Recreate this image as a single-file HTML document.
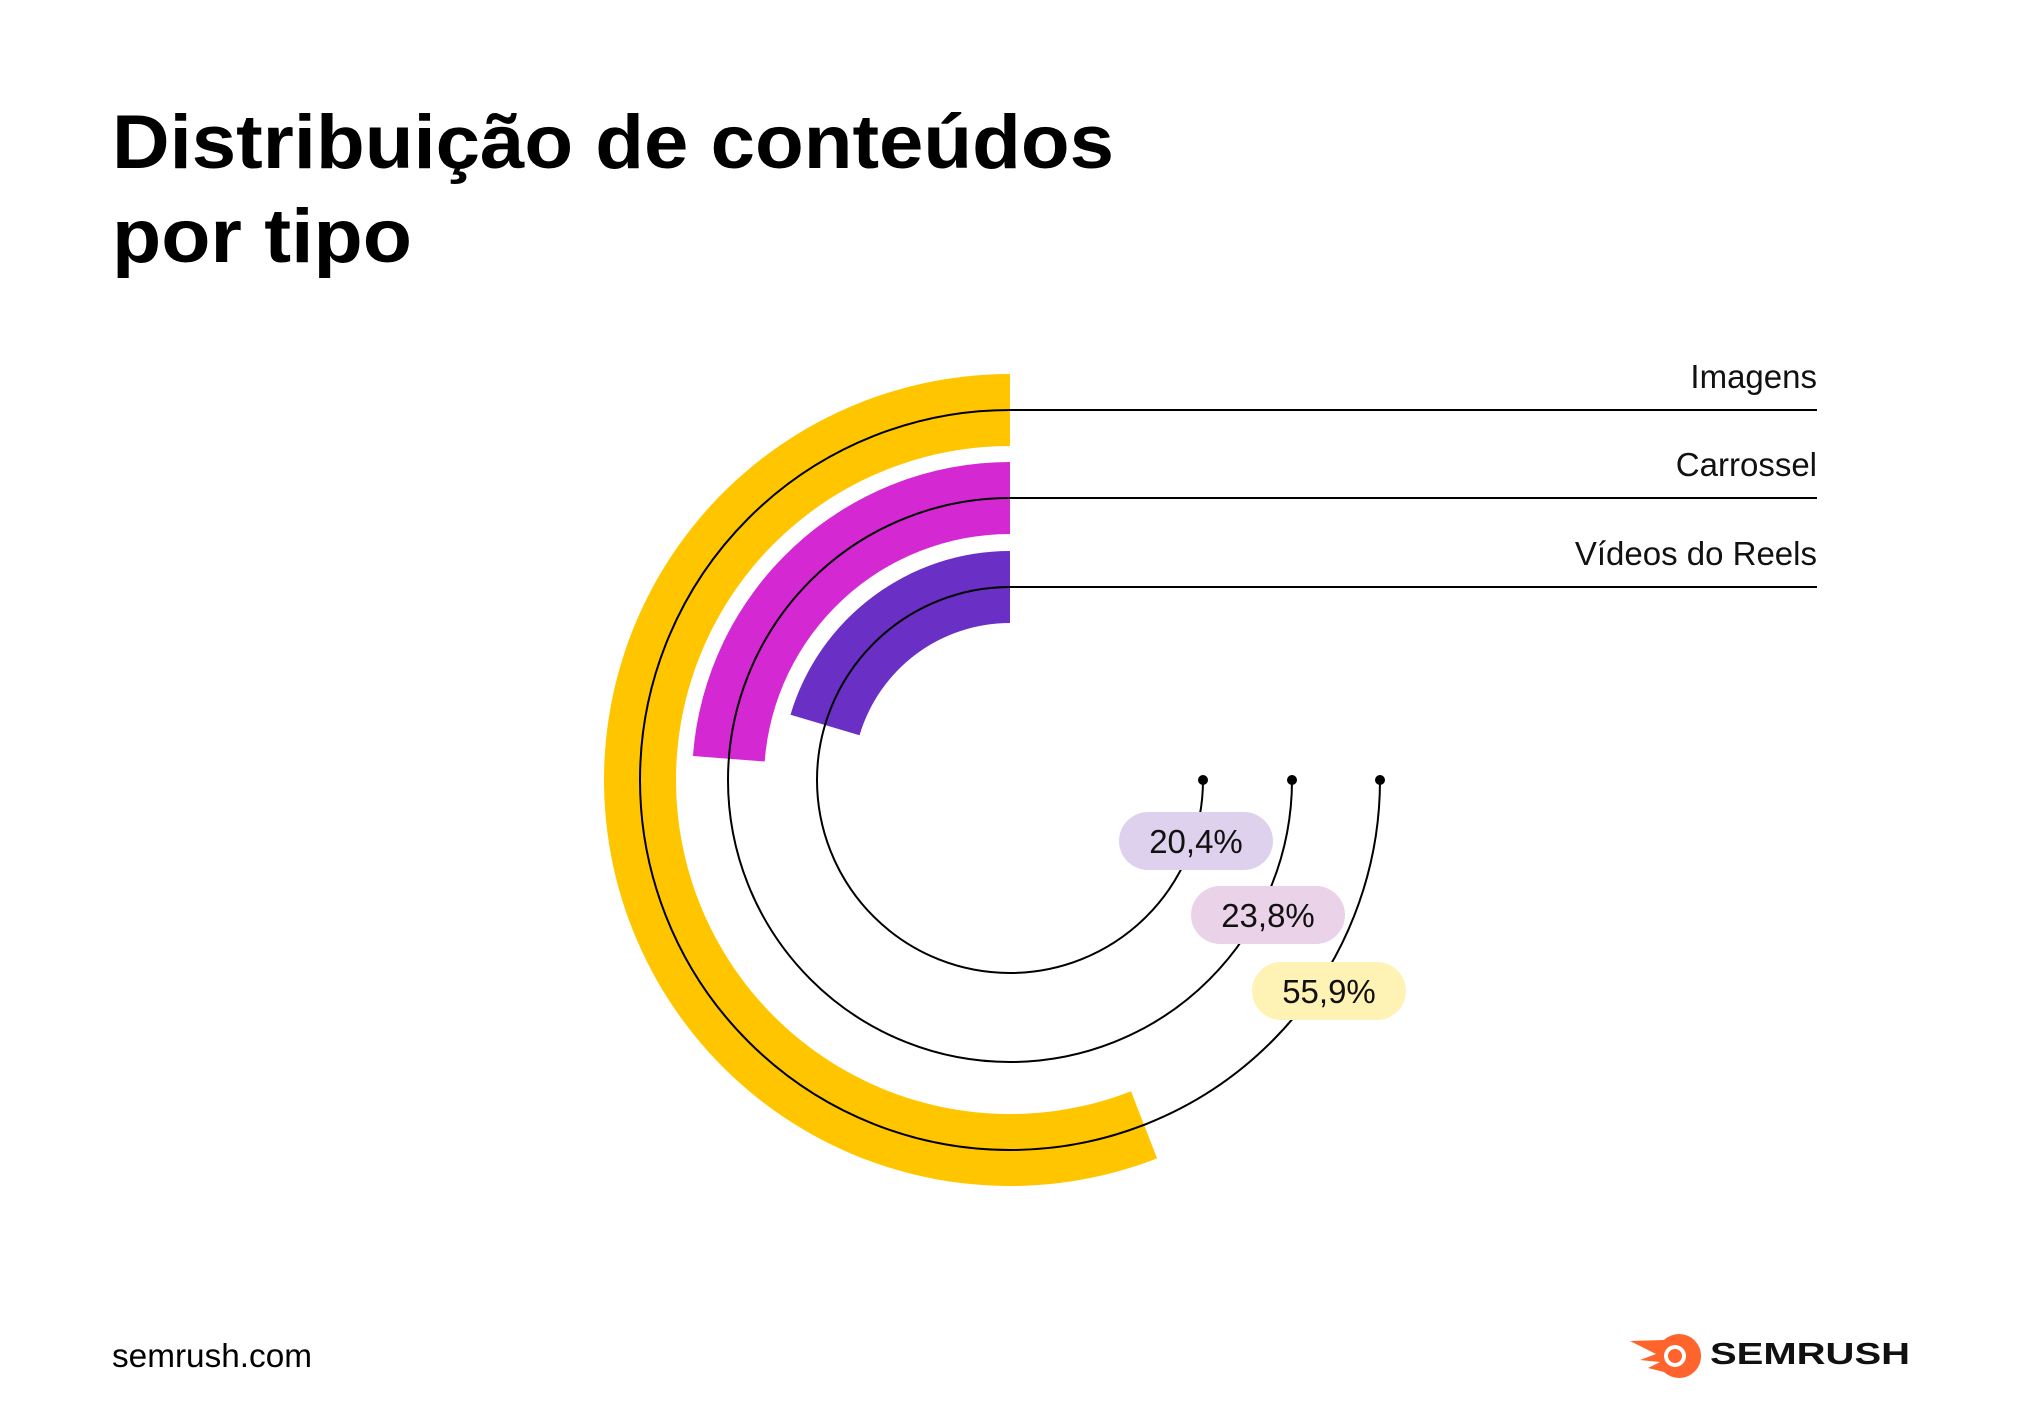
<!DOCTYPE html>
<html><head><meta charset="utf-8">
<style>
html,body{margin:0;padding:0;background:#fff;}
svg{display:block;font-family:"Liberation Sans",sans-serif;}
</style></head>
<body>
<svg id="chart" width="2020" height="1406" viewBox="0 0 2020 1406">
  <rect width="2020" height="1406" fill="#fff"/>
  <text x="112" y="168" font-size="76" font-weight="bold" fill="#000" textLength="1002" lengthAdjust="spacingAndGlyphs">Distribuição de conteúdos</text>
  <text x="112" y="262" font-size="76" font-weight="bold" fill="#000" textLength="300" lengthAdjust="spacingAndGlyphs">por tipo</text>
  <g id="rings"></g>
  <g id="labels"></g>
  <text x="112" y="1367" font-size="33" fill="#000" textLength="200" lengthAdjust="spacingAndGlyphs">semrush.com</text>
  <g>
    <path d="M1630,1341 L1664,1340 A22,22 0 1 1 1664,1372 L1648,1368 L1660,1362 L1640,1360 L1656,1354 Z" fill="#ff642d"/>
    <circle cx="1675" cy="1356" r="11" fill="#fff"/>
    <circle cx="1675" cy="1356" r="7" fill="#ff642d"/>
    <text x="1710" y="1364" font-size="31" font-weight="bold" fill="#111" textLength="200" lengthAdjust="spacingAndGlyphs">SEMRUSH</text>
  </g>
</svg>
<script>
const categories = ["Imagens", "Carrossel", "Vídeos do Reels"];
const values = [55.9, 23.8, 20.4];
const valueLabels = ["55,9%", "23,8%", "20,4%"];
const colors = ["#ffc600", "#d428d2", "#6a2fc4"];
const pillColors = ["#fff2b5", "#ead2e9", "#ded1ee"];

const NS = "http://www.w3.org/2000/svg";
const cx = 1010, cy = 780;
const outerR = [406, 318, 229];
const thick = 72;
const lineEndX = 1817;
const pillCenters = [[1329, 991], [1268, 915], [1196, 841]];

function angleScale(v) { return v / 100 * 2 * Math.PI; }
function pt(r, a) { return [cx - r * Math.sin(a), cy - r * Math.cos(a)]; }
function mk(tag, attrs) { const e = document.createElementNS(NS, tag); for (const k in attrs) e.setAttribute(k, attrs[k]); return e; }

const rings = document.getElementById('rings');
const labels = document.getElementById('labels');

values.forEach((v, i) => {
  const ro = outerR[i], ri = ro - thick;
  const a = angleScale(v);
  const large = a > Math.PI ? 1 : 0;
  const [x1, y1] = pt(ro, 0), [x2, y2] = pt(ro, a), [x3, y3] = pt(ri, a), [x4, y4] = pt(ri, 0);
  const bar = mk('path', { d: `M${x1},${y1} A${ro},${ro} 0 ${large} 0 ${x2},${y2} L${x3},${y3} A${ri},${ri} 0 ${large} 1 ${x4},${y4} Z`, fill: colors[i] });
  
  
  rings.appendChild(bar);
});

values.forEach((v, i) => {
  const rm = outerR[i] - thick / 2;
  const [sx, sy] = pt(rm, 0), [ex, ey] = pt(rm, 1.5 * Math.PI);
  const guide = mk('path', { d: `M${sx},${sy} A${rm},${rm} 0 1 0 ${ex},${ey}`, fill: 'none', stroke: '#000', 'stroke-width': 2 });
  
  
  rings.appendChild(guide);
  const lead = mk('line', { x1: sx, y1: sy, x2: lineEndX, y2: sy, stroke: '#000', 'stroke-width': 2 });
  
  
  rings.appendChild(lead);
  const dot = mk('circle', { cx: ex, cy: ey, r: 5, fill: '#000' });
  
  
  rings.appendChild(dot);
  const t = mk('text', { x: lineEndX, y: sy - 22, 'text-anchor': 'end', 'font-size': 33, fill: '#111' });
  t.textContent = categories[i];
  
  
  labels.appendChild(t);

  const [px, py] = pillCenters[i];
  const pill = mk('rect', { x: px - 77, y: py - 29, width: 154, height: 58, rx: 29, fill: pillColors[i] });
  
  
  labels.appendChild(pill);
  const vt = mk('text', { x: px, y: py + 12, 'text-anchor': 'middle', 'font-size': 33, fill: '#111' });
  vt.textContent = valueLabels[i];
  
  
  labels.appendChild(vt);
});
</script>
</body></html>
